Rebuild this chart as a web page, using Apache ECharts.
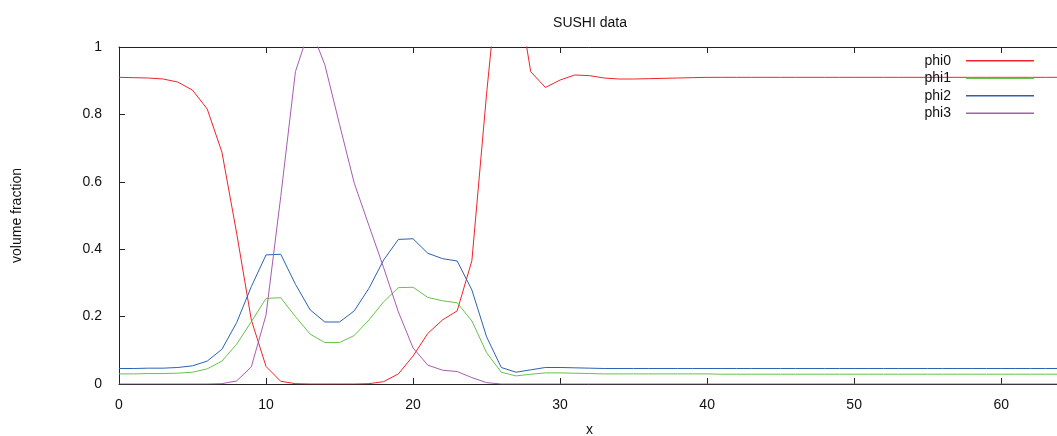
<!DOCTYPE html>
<html>
<head>
<meta charset="utf-8">
<title>SUSHI data</title>
<script src="https://cdn.jsdelivr.net/npm/echarts@6/dist/echarts.min.js"></script>
<style>
    html, body { margin: 0; padding: 0; background: #fff; overflow: hidden; }
    #chart { width: 1057px; height: 436px; }
</style>
</head>
<body>
<div id="chart"></div>
<script>
// x positions 0..64
var xs = [];
for (var i = 0; i <= 64; i++) { xs.push(i); }

var xTicks = [0, 10, 20, 30, 40, 50, 60];
var yTicks = [0, 0.2, 0.4, 0.6, 0.8, 1];

var phi0 = [0.910, 0.909, 0.908, 0.905, 0.896, 0.872, 0.816, 0.688, 0.448, 0.190,
    0.052, 0.008, 0.001, 0, 0, 0, 0, 0.001, 0.007, 0.030,
    0.083, 0.150, 0.190, 0.217, 0.366, 0.861, 1.300, 1.197, 0.927, 0.880,
    0.902, 0.917, 0.915, 0.908, 0.905, 0.905, 0.906, 0.907, 0.908, 0.909,
    0.910, 0.910, 0.910, 0.910, 0.910, 0.910, 0.910, 0.910, 0.910, 0.910,
    0.910, 0.910, 0.910, 0.910, 0.910, 0.910, 0.910, 0.910, 0.910, 0.910,
    0.910, 0.910, 0.910, 0.910, 0.910];

var phi1 = [0.030, 0.030, 0.031, 0.031, 0.032, 0.035, 0.045, 0.068, 0.118, 0.185,
    0.254, 0.256, 0.200, 0.148, 0.123, 0.123, 0.144, 0.190, 0.244, 0.286,
    0.287, 0.257, 0.247, 0.241, 0.187, 0.093, 0.035, 0.024, 0.029, 0.033,
    0.033, 0.032, 0.031, 0.030, 0.030, 0.030, 0.030, 0.030, 0.030, 0.030,
    0.030, 0.029, 0.029, 0.029, 0.029, 0.029, 0.029, 0.029, 0.029, 0.029,
    0.029, 0.029, 0.029, 0.029, 0.029, 0.029, 0.029, 0.029, 0.029, 0.029,
    0.029, 0.029, 0.029, 0.029, 0.029];

var phi2 = [0.046, 0.046, 0.047, 0.047, 0.049, 0.054, 0.068, 0.103, 0.182, 0.289,
    0.383, 0.385, 0.296, 0.220, 0.184, 0.184, 0.217, 0.284, 0.368, 0.429,
    0.431, 0.388, 0.372, 0.365, 0.279, 0.140, 0.049, 0.035, 0.042, 0.049,
    0.049, 0.048, 0.047, 0.046, 0.046, 0.046, 0.046, 0.046, 0.046, 0.046,
    0.046, 0.046, 0.046, 0.046, 0.046, 0.046, 0.046, 0.046, 0.046, 0.046,
    0.046, 0.046, 0.046, 0.046, 0.046, 0.046, 0.046, 0.046, 0.046, 0.046,
    0.046, 0.046, 0.046, 0.046, 0.046];

var phi3 = [0, 0, 0, 0, 0, 0, 0, 0.001, 0.009, 0.051,
    0.205, 0.556, 0.927, 1.060, 0.947, 0.770, 0.596, 0.470, 0.345, 0.214,
    0.107, 0.056, 0.041, 0.037, 0.019, 0.004, 0, 0, 0, 0,
    0, 0, 0, 0, 0, 0, 0, 0, 0, 0,
    0, 0, 0, 0, 0, 0, 0, 0, 0, 0,
    0, 0, 0, 0, 0, 0, 0, 0, 0, 0,
    0, 0, 0, 0, 0];

var names = ['phi0', 'phi1', 'phi2', 'phi3'];
var colors = ['#f2222a', '#66c24a', '#2a62b2', '#a65cb0'];

function pairs(arr) {
    var out = [];
    for (var k = 0; k < arr.length; k++) {
        out.push([xs[k], arr[k]]);
    }
    return out;
}

var fontFam = '"Liberation Sans", Arial, sans-serif';
var axisCol = '#222';

var chart = echarts.init(document.getElementById('chart'), null, { renderer: 'canvas' });

var option = {
    animation: false,
    color: colors,
    textStyle: { fontFamily: fontFam },
    title: {
        text: 'SUSHI data',
        left: 585,
        top: 11,
        textAlign: 'center',
        textStyle: { fontSize: 14, fontWeight: 'normal', color: '#111', fontFamily: fontFam }
    },
    legend: {
        data: names,
        orient: 'vertical',
        right: 18,
        top: 47,
        align: 'right',
        icon: 'rect',
        itemWidth: 68,
        itemHeight: 1.5,
        itemGap: 0,
        textStyle: {
            fontSize: 14,
            color: '#111',
            lineHeight: 17.5,
            padding: [0, 10, 0, 0],
            fontFamily: fontFam
        }
    },
    grid: {
        left: 119,
        top: 47,
        bottom: 52,
        right: -3,
        outerBoundsMode: 'none', // plot runs past the right edge, do not squeeze it
        containLabel: false
    },
    xAxis: [{
        type: 'value',
        min: 0,
        max: 64,
        interval: 10,
        name: 'x',
        nameLocation: 'middle',
        nameGap: 39,
        nameTextStyle: { fontSize: 14, color: '#111' },
        axisLine: { show: true, lineStyle: { color: axisCol, width: 1 } },
        axisTick: { show: true, inside: true, length: 6, lineStyle: { color: axisCol } },
        axisLabel: {
            fontSize: 14, color: '#111', margin: 14,
            formatter: function(v) { return xTicks.indexOf(v) >= 0 ? String(v) : ''; }
        },
        splitLine: { show: false }
    }, {
        type: 'value',
        position: 'top',
        min: 0,
        max: 64,
        interval: 10,
        axisLine: { show: true, lineStyle: { color: axisCol, width: 1 } },
        axisTick: { show: true, inside: true, length: 6, lineStyle: { color: axisCol } },
        axisLabel: { show: false },
        splitLine: { show: false }
    }],
    yAxis: [{
        type: 'value',
        min: 0,
        max: 1,
        interval: 0.2,
        name: 'volume fraction',
        nameLocation: 'middle',
        nameGap: 95,
        nameTextStyle: { fontSize: 14, color: '#111' },
        axisLine: { show: true, lineStyle: { color: axisCol, width: 1 } },
        axisTick: { show: true, inside: true, length: 6, lineStyle: { color: axisCol } },
        axisLabel: {
            fontSize: 14, color: '#111', margin: 17,
            formatter: function(v) {
                var r = Math.round(v * 10) / 10;
                return yTicks.indexOf(r) >= 0 ? String(r) : '';
            }
        },
        splitLine: { show: false }
    }],
    series: []
};

var allData = [phi0, phi1, phi2, phi3];
for (var s = 0; s < names.length; s++) {
    option.series.push({
        name: names[s],
        type: 'line',
        xAxisIndex: 0,
        yAxisIndex: 0,
        data: pairs(allData[s]),
        showSymbol: false,
        symbol: 'none',
        clip: true,
        lineStyle: { width: 1, color: colors[s] },
        itemStyle: { color: colors[s] },
        z: 2 + s
    });
}

chart.setOption(option);
</script>
</body>
</html>
